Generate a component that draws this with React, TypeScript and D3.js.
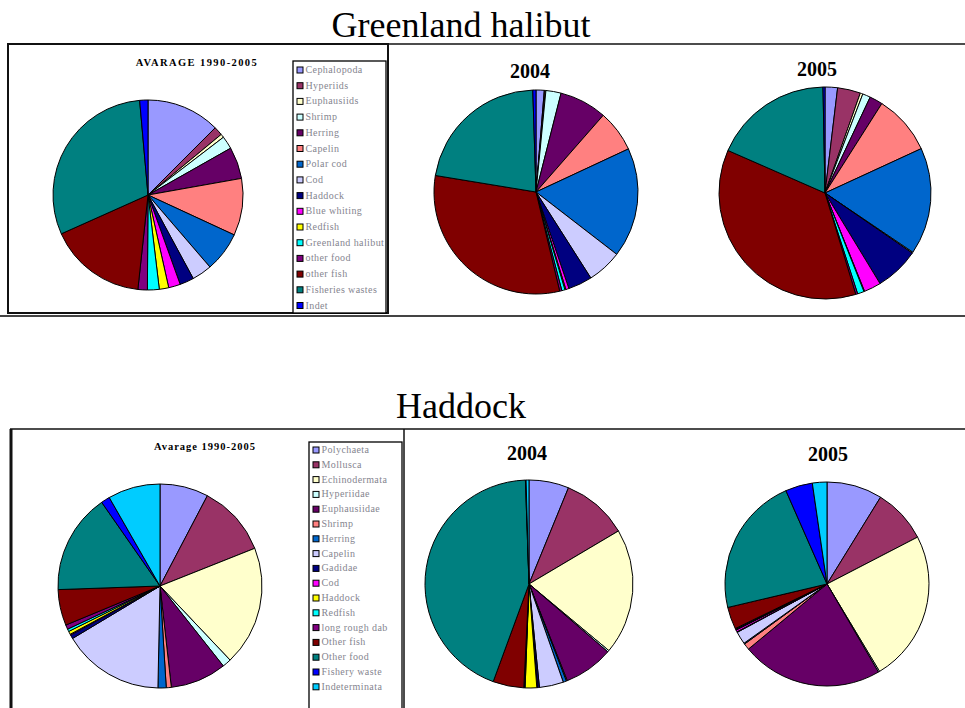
import React from "react";
import * as d3 from "d3";

// ---------- Data ----------
const ghCategories = [
  "Cephalopoda", "Hyperiids", "Euphausiids", "Shrimp", "Herring", "Capelin",
  "Polar cod", "Cod", "Haddock", "Blue whiting", "Redfish", "Greenland halibut",
  "other food", "other fish", "Fisheries wastes", "Indet",
];
const ghColors = [
  "#9999FF", "#993366", "#FFFFCC", "#CCFFFF", "#660066", "#FF8080",
  "#0066CC", "#CCCCFF", "#000080", "#FF00FF", "#FFFF00", "#00FFFF",
  "#800080", "#800000", "#008080", "#0000FF",
];
const ghAvg = [12.5, 1.5, 0.6, 2.2, 5.4, 9.7, 6.8, 3.4, 2.4, 2.0, 1.6, 2.0, 1.6, 16.6, 30.3, 1.4];
const gh2004 = [1.3, 0.15, 0.1, 2.4, 7.5, 6.6, 17.4, 5.5, 3.8, 0.5, 0.15, 0.5, 0.35, 31.3, 21.9, 0.5];
const gh2005 = [1.9, 3.5, 0.4, 1.2, 2.0, 9.1, 16.3, 0.15, 6.7, 2.6, 0.1, 1.0, 0.3, 36.2, 18.1, 0.3];

const hadCategories = [
  "Polychaeta", "Mollusca", "Echinodermata", "Hyperiidae", "Euphausiidae", "Shrimp",
  "Herring", "Capelin", "Gadidae", "Cod", "Haddock", "Redfish", "long rough dab",
  "Other fish", "Other food", "Fishery waste", "Indeterminata",
];
const hadColors = [
  "#9999FF", "#993366", "#FFFFCC", "#CCFFFF", "#660066", "#FF8080",
  "#0066CC", "#CCCCFF", "#000080", "#FF00FF", "#FFFF00", "#00FFFF",
  "#800080", "#800000", "#008080", "#0000FF", "#00CCFF",
];
const hadAvg = [7.7, 11.3, 19.0, 1.4, 8.9, 0.8, 1.3, 16.1, 0.6, 0.15, 0.5, 0.4, 0.7, 5.7, 15.9, 1.4, 8.3];
const had2004 = [6.2, 10.3, 19.6, 0.25, 7.7, 0.15, 0.5, 3.75, 0.3, 0.1, 1.8, 0.1, 0.1, 4.8, 43.9, 0.1, 0.45];
const had2005 = [8.8, 8.6, 24.0, 0.2, 22.4, 1.0, 0.15, 2.0, 0.1, 0.3, 0.06, 0.06, 0.15, 3.5, 22.1, 4.3, 2.3];

const SERIF = "'Liberation Serif', 'Times New Roman', serif";

type PieProps = { values: number[]; colors: string[]; cx: number; cy: number; r: number };

function Pie({ values, colors, cx, cy, r }: PieProps) {
  const pie = d3.pie<number>().sort(null).value((d) => d);
  const arc = d3.arc<d3.PieArcDatum<number>>().innerRadius(0).outerRadius(r);
  const arcs = pie(values);
  return (
    <g transform={`translate(${cx},${cy})`}>
      {arcs.map((a, i) => (
        <path key={i} d={arc(a) || ""} fill={colors[i]} stroke="#000" strokeWidth={1} strokeLinejoin="round" />
      ))}
    </g>
  );
}

type LegendProps = { labels: string[]; colors: string[]; x: number; y: number; w: number; h: number; y0: number; step: number };

function Legend({ labels, colors, x, y, w, h, y0, step }: LegendProps) {
  return (
    <g>
      <rect x={x} y={y} width={w} height={h} fill="#fff" stroke="#000" strokeWidth={1.3} />
      {labels.map((l, i) => {
        const cy = y0 + i * step;
        return (
          <g key={l}>
            <rect x={x + 4} y={cy - 3} width={6} height={6} fill={colors[i]} stroke="#000" strokeWidth={1} />
            <text x={x + 12.5} y={cy + 3} fontFamily={SERIF} fontSize={10} fill="#85858f" letterSpacing={0.4}>
              {l}
            </text>
          </g>
        );
      })}
    </g>
  );
}

export default function App() {
  return (
    <svg
      width={965}
      height={708}
      viewBox="0 0 965 708"
      style={{ position: "absolute", left: 0, top: 0, background: "#fff" }}
    >
      <rect x={0} y={0} width={965} height={708} fill="#fff" />

      {/* ---------- Greenland halibut ---------- */}
      <text x={461} y={37} textAnchor="middle" fontFamily={SERIF} fontSize={36}>
        Greenland halibut
      </text>
      <line x1={388} y1={44} x2={965} y2={44} stroke="#111" strokeWidth={1.5} />
      <line x1={0} y1={316} x2={965} y2={316} stroke="#444" strokeWidth={2} />
      <rect x={8} y={44} width={380} height={269} fill="none" stroke="#111" strokeWidth={2} />

      <text x={197} y={66} textAnchor="middle" fontFamily={SERIF} fontSize={10.5} fontWeight="bold" letterSpacing={1.4}>
        AVARAGE 1990-2005
      </text>
      <Pie values={ghAvg} colors={ghColors} cx={148} cy={195} r={95} />
      <Legend labels={ghCategories} colors={ghColors} x={293} y={61} w={93} h={252} y0={70} step={15.7} />

      <text x={530} y={78} textAnchor="middle" fontFamily={SERIF} fontSize={20} fontWeight="bold">2004</text>
      <Pie values={gh2004} colors={ghColors} cx={536} cy={192} r={102} />

      <text x={817} y={76} textAnchor="middle" fontFamily={SERIF} fontSize={20} fontWeight="bold">2005</text>
      <Pie values={gh2005} colors={ghColors} cx={825} cy={193} r={106} />

      {/* ---------- Haddock ---------- */}
      <text x={461} y={418} textAnchor="middle" fontFamily={SERIF} fontSize={36}>
        Haddock
      </text>
      <line x1={10} y1={429} x2={965} y2={429} stroke="#111" strokeWidth={1.5} />
      <line x1={11} y1={429} x2={11} y2={708} stroke="#111" strokeWidth={3} />
      <line x1={404} y1={429} x2={404} y2={708} stroke="#111" strokeWidth={1.5} />

      <text x={205} y={450} textAnchor="middle" fontFamily={SERIF} fontSize={10.5} fontWeight="bold" letterSpacing={1}>
        Avarage 1990-2005
      </text>
      <Pie values={hadAvg} colors={hadColors} cx={160} cy={586} r={102} />
      <Legend labels={hadCategories} colors={hadColors} x={309} y={442} w={93} h={280} y0={450} step={14.8} />

      <text x={527} y={460} textAnchor="middle" fontFamily={SERIF} fontSize={20} fontWeight="bold">2004</text>
      <Pie values={had2004} colors={hadColors} cx={529} cy={584} r={104} />

      <text x={828} y={461} textAnchor="middle" fontFamily={SERIF} fontSize={20} fontWeight="bold">2005</text>
      <Pie values={had2005} colors={hadColors} cx={827} cy={584} r={102} />
    </svg>
  );
}
